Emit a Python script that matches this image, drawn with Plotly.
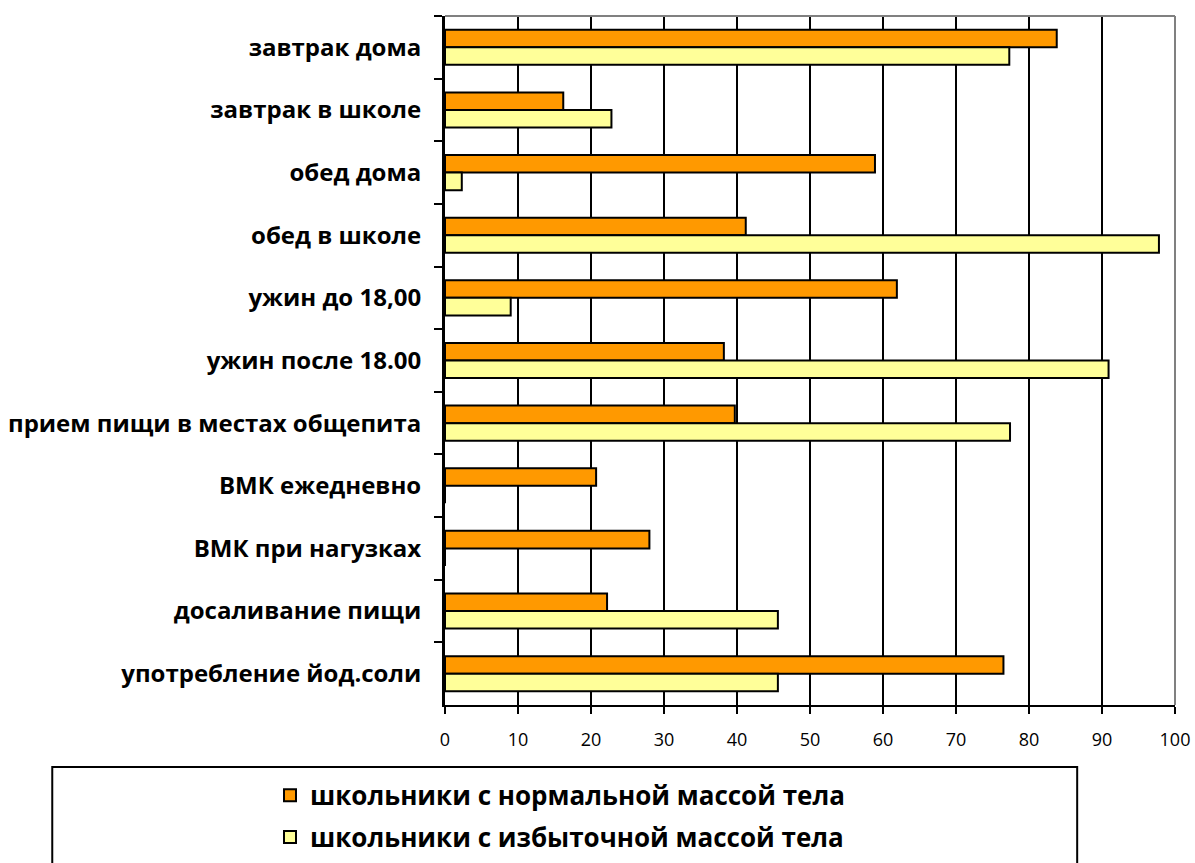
import plotly.graph_objects as go

categories = [
    "завтрак дома",
    "завтрак в школе",
    "обед дома",
    "обед в школе",
    "ужин до 18,00",
    "ужин после 18.00",
    "прием пищи в местах общепита",
    "ВМК ежедневно",
    "ВМК при нагузках",
    "досаливание пищи",
    "употребление йод.соли",
]
normal_weight = [83.8, 16.2, 58.9, 41.2, 61.9, 38.2, 39.7, 20.7, 28.0, 22.2, 76.5]
overweight = [77.3, 22.8, 2.3, 97.8, 9.0, 90.9, 77.4, 0, 0, 45.6, 45.6]
series_names = [
    "школьники с нормальной массой тела",
    "школьники с избыточной массой тела",
]
x_ticks = [0, 10, 20, 30, 40, 50, 60, 70, 80, 90, 100]

fig = go.Figure()
fig.add_trace(go.Bar(
    y=categories, x=normal_weight, orientation="h", name=series_names[0],
    legendgroup="normal",
    marker=dict(color="#FF9900", line=dict(color="black", width=2)),
))
fig.add_trace(go.Bar(
    y=categories, x=overweight, orientation="h", name=series_names[1],
    legendgroup="over",
    marker=dict(color="#FFFF99", line=dict(color="black", width=2)),
))

fig.update_layout(
    width=1195, height=863,
    margin=dict(l=445, r=20, t=16, b=158, autoexpand=False),
    paper_bgcolor="white", plot_bgcolor="white",
    barmode="group", bargap=0.44, bargroupgap=0,
    font=dict(family="Open Sans", color="black"),
    showlegend=True,
    legend=dict(
        x=-0.2397, xanchor="left", y=-0.097, yanchor="top",
        font=dict(family="Open Sans", size=26, color="black", weight="bold"),
        tracegroupgap=5, bgcolor="rgba(0,0,0,0)", traceorder="grouped",
    ),
    xaxis=dict(
        range=[0, 100], tickvals=x_ticks, ticktext=[str(v) for v in x_ticks],
        showgrid=True, gridcolor="black", gridwidth=2,
        showline=True, linecolor="black", linewidth=2,
        ticks="outside", ticklen=7, tickwidth=2, tickcolor="black",
        tickfont=dict(family="Open Sans", size=18, color="black"),
        ticklabelstandoff=10, automargin=False,
        zeroline=False, fixedrange=True,
    ),
    yaxis=dict(
        categoryorder="array", categoryarray=categories, autorange="reversed",
        tickson="boundaries", ticks="outside", ticklen=8, tickwidth=2, tickcolor="black",
        showline=True, linecolor="black", linewidth=3, showgrid=False,
        tickfont=dict(family="Open Sans", size=24, color="black", weight="bold"),
        ticklabelstandoff=16, automargin=False, fixedrange=True,
    ),
    shapes=[
        # gray frame on top and right of plot area
        dict(type="line", xref="paper", yref="paper", x0=0, x1=1, y0=1, y1=1,
             line=dict(color="#808080", width=2)),
        dict(type="line", xref="paper", yref="paper", x0=1, x1=1, y0=0, y1=1,
             line=dict(color="#808080", width=2)),
        # legend frame
        dict(type="rect", xref="paper", yref="paper", x0=-0.538, x1=0.866,
             y0=-0.232, y1=-0.09, line=dict(color="black", width=2),
             fillcolor="rgba(0,0,0,0)"),
    ],
)

fig.write_html("out.html")
